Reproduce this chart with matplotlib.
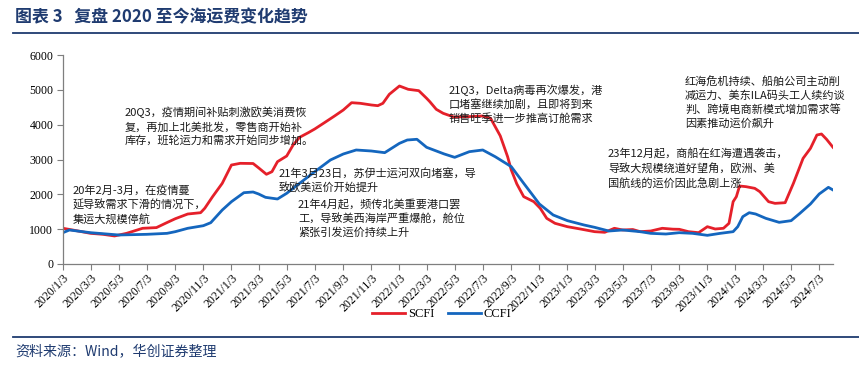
import matplotlib
matplotlib.use("Agg")
import matplotlib.pyplot as plt
import matplotlib.dates as mdates
import pandas as pd

plt.rcParams['font.family'] = ['Noto Sans CJK SC', 'DejaVu Sans']

# ---------------- data ----------------
scfi_dates = [
    "2020-01-03", "2020-01-24", "2020-03-03", "2020-03-30", "2020-04-24", "2020-05-20",
    "2020-06-24", "2020-07-24", "2020-08-16", "2020-09-03", "2020-09-30", "2020-10-28",
    "2020-11-06", "2020-11-23", "2020-12-14", "2021-01-03", "2021-01-22", "2021-02-19",
    "2021-03-03", "2021-03-20", "2021-04-01", "2021-04-13", "2021-05-03", "2021-05-17",
    "2021-05-31", "2021-06-19", "2021-07-03", "2021-07-24", "2021-08-15", "2021-09-03",
    "2021-09-21", "2021-10-10", "2021-11-03", "2021-11-17", "2021-11-28", "2021-12-12",
    "2022-01-03", "2022-01-22", "2022-02-14", "2022-03-03", "2022-03-10", "2022-03-24",
    "2022-04-08", "2022-05-01", "2022-06-01", "2022-07-03", "2022-07-20", "2022-08-10",
    "2022-08-26", "2022-09-03", "2022-09-15", "2022-09-30", "2022-10-22", "2022-11-05",
    "2022-11-19", "2022-12-07", "2023-01-03", "2023-01-31", "2023-03-03", "2023-03-25",
    "2023-04-15", "2023-05-03", "2023-05-25", "2023-06-10", "2023-07-03", "2023-07-28",
    "2023-08-20", "2023-09-03", "2023-09-23", "2023-10-15", "2023-11-03", "2023-11-20",
    "2023-12-08", "2023-12-20", "2023-12-29", "2024-01-05", "2024-01-12", "2024-01-26",
    "2024-02-14", "2024-02-25", "2024-03-15", "2024-03-29", "2024-04-20", "2024-05-08",
    "2024-05-29", "2024-06-14", "2024-06-28", "2024-07-08", "2024-07-19", "2024-08-02",
]
scfi_values = [
    1025, 976, 880, 852, 805, 880,
    1025, 1045, 1190, 1300, 1435, 1473,
    1600, 1933, 2316, 2842, 2890, 2885,
    2760, 2575, 2650, 2937, 3100, 3416,
    3637, 3770, 3876, 4057, 4249, 4421,
    4631, 4613, 4565, 4545, 4613, 4872,
    5110, 5015, 4976, 4757, 4660, 4441,
    4326, 4220, 4230, 4249, 4183, 3680,
    3081, 2700, 2300, 1933, 1789, 1598,
    1311, 1168, 1071, 1005, 928, 910,
    1025, 976, 990, 928, 947, 1025,
    1000, 996, 928, 899, 1071, 1005,
    1025, 1168, 1789, 1933, 2239, 2220,
    2172, 2076, 1789, 1741, 1760, 2316,
    3033, 3320, 3703, 3732, 3580, 3350,
]

ccfi_dates = [
    "2020-01-03", "2020-01-17", "2020-03-03", "2020-05-03", "2020-07-03", "2020-08-16",
    "2020-09-03", "2020-09-30", "2020-10-21", "2020-11-03", "2020-11-19", "2020-12-14",
    "2021-01-03", "2021-01-30", "2021-02-19", "2021-03-03", "2021-03-18", "2021-04-13",
    "2021-05-03", "2021-05-31", "2021-07-03", "2021-08-06", "2021-09-03", "2021-10-01",
    "2021-11-03", "2021-12-02", "2022-01-03", "2022-01-20", "2022-02-10", "2022-03-03",
    "2022-04-10", "2022-05-03", "2022-06-04", "2022-07-03", "2022-07-30", "2022-09-03",
    "2022-09-30", "2022-10-22", "2022-11-03", "2022-12-03", "2023-01-03", "2023-02-08",
    "2023-03-03", "2023-04-03", "2023-05-03", "2023-06-10", "2023-07-03", "2023-08-05",
    "2023-09-03", "2023-10-02", "2023-11-03", "2023-12-01", "2023-12-29", "2024-01-08",
    "2024-01-19", "2024-02-02", "2024-02-16", "2024-03-09", "2024-04-07", "2024-05-03",
    "2024-05-22", "2024-06-14", "2024-07-03", "2024-07-23", "2024-08-02",
]
ccfi_values = [
    900, 976, 899, 833, 852, 880,
    928, 1025, 1071, 1100, 1186, 1550,
    1789, 2047, 2067, 2010, 1914, 1866,
    2029, 2316, 2650, 2986, 3158, 3273,
    3244, 3196, 3464, 3560, 3580, 3350,
    3160, 3062, 3225, 3273, 3081, 2794,
    2316, 1933, 1723, 1407, 1244, 1120,
    1053, 947, 976, 928, 880, 861,
    899, 880, 823, 880, 928, 1071,
    1359, 1473, 1435, 1311, 1196, 1244,
    1454, 1723, 2010, 2201, 2125,
]

series_names = ["SCFI", "CCFI"]
tick_dates = [
    "2020-01-03", "2020-03-03", "2020-05-03", "2020-07-03", "2020-09-03", "2020-11-03",
    "2021-01-03", "2021-03-03", "2021-05-03", "2021-07-03", "2021-09-03", "2021-11-03",
    "2022-01-03", "2022-03-03", "2022-05-03", "2022-07-03", "2022-09-03", "2022-11-03",
    "2023-01-03", "2023-03-03", "2023-05-03", "2023-07-03", "2023-09-03", "2023-11-03",
    "2024-01-03", "2024-03-03", "2024-05-03", "2024-07-03",
]
tick_labels = [
    "2020/1/3", "2020/3/3", "2020/5/3", "2020/7/3", "2020/9/3", "2020/11/3",
    "2021/1/3", "2021/3/3", "2021/5/3", "2021/7/3", "2021/9/3", "2021/11/3",
    "2022/1/3", "2022/3/3", "2022/5/3", "2022/7/3", "2022/9/3", "2022/11/3",
    "2023/1/3", "2023/3/3", "2023/5/3", "2023/7/3", "2023/9/3", "2023/11/3",
    "2024/1/3", "2024/3/3", "2024/5/3", "2024/7/3",
]
y_ticks = [0, 1000, 2000, 3000, 4000, 5000, 6000]

title = "图表 3   复盘 2020 至今海运费变化趋势"
source = "资料来源：Wind，华创证券整理"

annotations = [
    (73, 185, "20年2月-3月，在疫情蔓\n延导致需求下滑的情况下，\n集运大规模停航"),
    (125, 107, "20Q3，疫情期间补贴刺激欧美消费恢\n复，再加上北美批发，零售商开始补\n库存，班轮运力和需求开始同步增加。"),
    (279, 168, "21年3月23日，苏伊士运河双向堵塞，导\n致欧美运价开始提升"),
    (298, 199, "21年4月起，频传北美重要港口罢\n工，导致美西海岸严重爆舱，舱位\n紧张引发运价持续上升"),
    (449, 84, "21Q3，Delta病毒再次爆发，港\n口堵塞继续加剧，且即将到来\n销售旺季进一步推高订舱需求"),
    (685, 76, "红海危机持续、船舶公司主动削\n减运力、美东ILA码头工人续约谈\n判、跨境电商新模式增加需求等\n因素推动运价飙升"),
    (608, 149, "23年12月起，商船在红海遭遇袭击，\n导致大规模绕道好望角，欧洲、美\n国航线的运价因此急剧上涨"),
]

# ---------------- figure ----------------
W, H = 859, 370
fig = plt.figure(figsize=(W / 100, H / 100), dpi=100)
navy = "#1F3B70"
red = "#E5202A"
blue = "#1466BE"

def fx(px):
    return px / W

def fy(py):
    return 1 - py / H

ax = fig.add_axes([fx(63), fy(264), fx(833) - fx(63), fy(55) - fy(264)])

sd = pd.to_datetime(scfi_dates)
cd = pd.to_datetime(ccfi_dates)
ax.plot(sd, scfi_values, color=red, lw=2.0, label=series_names[0], solid_joinstyle="round")
ax.plot(cd, ccfi_values, color=blue, lw=2.0, label=series_names[1], solid_joinstyle="round")

ax.set_xlim(pd.Timestamp("2020-01-03"), pd.Timestamp("2024-08-02"))
ax.set_ylim(0, 6000)
ax.set_yticks(y_ticks)
ax.set_yticklabels([str(v) for v in y_ticks], family="Liberation Serif", fontsize=8.5)
ax.set_xticks(pd.to_datetime(tick_dates))
ax.set_xticklabels(tick_labels, family="Liberation Serif", fontsize=8.5,
                   rotation=45, ha="right", rotation_mode="anchor")
for s in ["top", "right"]:
    ax.spines[s].set_visible(False)
for s in ["left", "bottom"]:
    ax.spines[s].set_color("#7F7F7F")
    ax.spines[s].set_linewidth(0.9)
ax.tick_params(axis="both", direction="out", length=4, width=0.8, color="#7F7F7F",
               labelcolor="black")
ax.tick_params(axis="y", pad=3)
ax.tick_params(axis="x", pad=2)

for x, y, t in annotations:
    fig.text(fx(x), fy(y), t, fontsize=8, va="top", ha="left", color="#1A1A1A",
             linespacing=1.38, zorder=5)

# legend
leg = fig.legend(loc="center", bbox_to_anchor=(fx(442), fy(314)), ncol=2, frameon=False,
                 prop={"family": "Liberation Serif", "size": 9}, handlelength=2.6,
                 columnspacing=1.1, handletextpad=0.25)

# title and rules
fig.text(fx(15), fy(17), title, fontsize=12.2, fontweight="bold", color=navy,
         va="center", ha="left")
fig.add_artist(plt.Line2D([fx(13), 1.0], [fy(33), fy(33)], color=navy, lw=1.3))
fig.add_artist(plt.Line2D([fx(13), 1.0], [fy(337), fy(337)], color=navy, lw=1.3))
fig.text(fx(15), fy(352), source, fontsize=10.1, color=navy, va="center", ha="left",
         style="italic")

fig.savefig("out.png", dpi=100)
